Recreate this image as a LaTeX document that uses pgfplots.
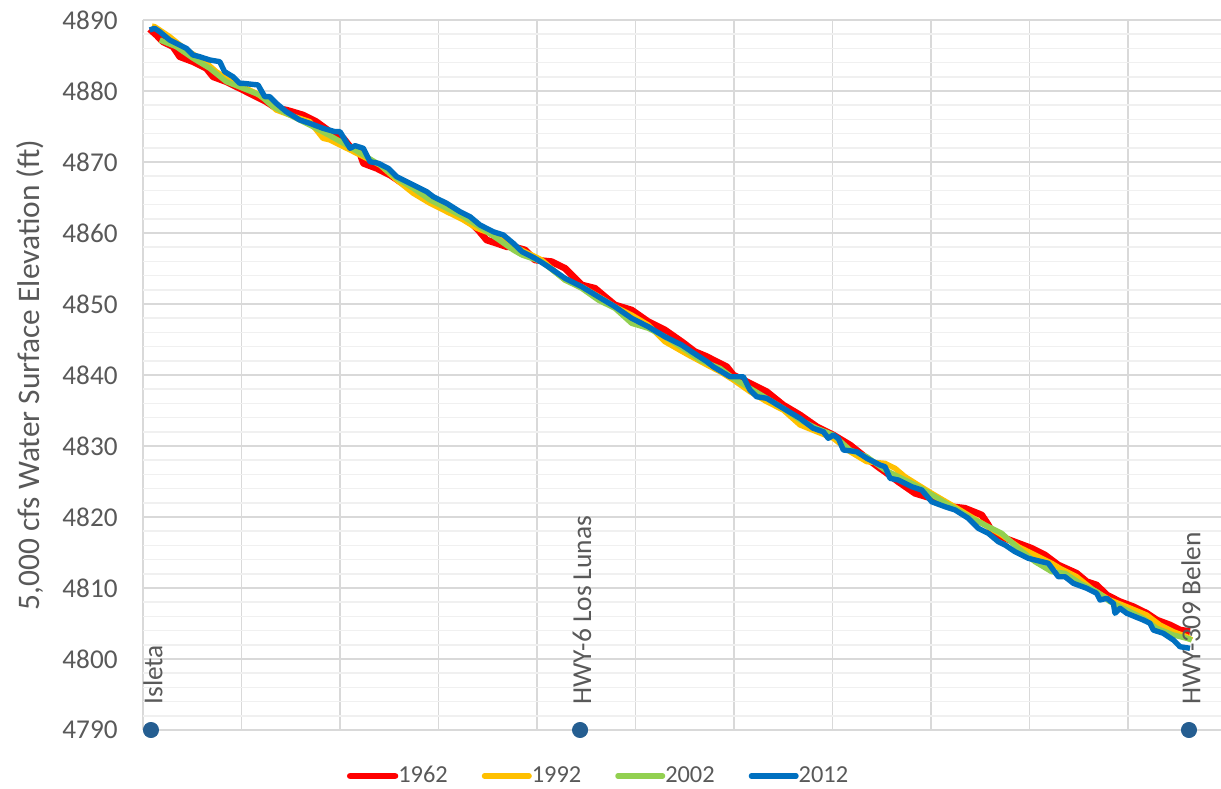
\documentclass[border=0pt]{standalone}
\usepackage{fontspec}
\setmainfont{Carlito}
\usepackage{pgfplots}
\pgfplotsset{compat=1.18}

\definecolor{c62}{RGB}{255,0,0}
\definecolor{c92}{RGB}{255,192,0}
\definecolor{c02}{RGB}{146,208,80}
\definecolor{c12}{RGB}{0,112,192}
\definecolor{site}{RGB}{37,94,145}
\definecolor{txt}{RGB}{89,89,89}
\definecolor{gmaj}{RGB}{217,217,217}
\definecolor{gmin}{RGB}{240,240,240}

\begin{document}
\begin{tikzpicture}
\begin{axis}[
  scale only axis, width=539pt, height=355pt,
  xmin=0, xmax=10.944, ymin=4790, ymax=4890,
  xtick={0,...,10}, xticklabels={},
  ytick={4790,4800,...,4890}, minor ytick={4792,4794,...,4888},
  grid=both,
  major grid style={gmaj, line width=0.75pt},
  minor grid style={gmin, line width=0.75pt},
  axis line style={draw=none},
  tick style={draw=none},
  major tick length=0pt, minor tick length=0pt,
  /pgf/number format/assume math mode=true,
  /pgf/number format/set thousands separator={},
  yticklabel style={font=\fontsize{13.6}{16}\selectfont, text=txt, inner sep=0pt, xshift=-12.5pt},
  ylabel={5,000 cfs Water Surface Elevation (ft)},
  every axis y label/.style={at={(rel axis cs:0,0.5)}, xshift=-56.5pt, rotate=90, anchor=center,
    font=\fontsize{15.7}{18}\selectfont, text=txt},
  clip=false,
  legend columns=4,
  legend style={at={(rel axis cs:0.1888,0)}, yshift=-23pt, anchor=west, draw=none, fill=none,
    inner sep=0pt, font=\fontsize{12.2}{14}\selectfont, text=txt,
    nodes={inner sep=1.2pt},
    /tikz/every odd column/.append style={column sep=-1.2pt},
    /tikz/every even column/.append style={column sep=15.8pt}},
  legend image code/.code={\draw[#1, line cap=round] (1.35pt,0pt) -- (23.65pt,0pt);},
  line join=round,
]
\coordinate (bl) at (rel axis cs:0,0);
\coordinate (tr) at (rel axis cs:1,1);

% 1962 profile
\addplot[c62, line width=3.4pt] coordinates {
(0.068,4888.73) (0.135,4887.89) (0.203,4886.94) (0.305,4886.24) (0.373,4884.83)
(0.508,4884.13) (0.643,4883.20) (0.711,4882.01) (0.846,4881.31) (0.982,4880.38)
(1.117,4879.44) (1.252,4878.49) (1.353,4877.56) (1.455,4877.32) (1.624,4876.62)
(1.759,4875.68) (1.898,4874.27) (2.034,4873.34) (2.102,4872.15) (2.203,4871.23)
(2.237,4869.82) (2.373,4869.11) (2.508,4868.17) (2.609,4867.23) (2.744,4866.06)
(2.880,4865.35) (3.015,4863.94) (3.185,4862.77) (3.320,4861.59) (3.404,4860.42)
(3.489,4859.01) (3.591,4858.55) (3.692,4858.07) (3.777,4858.00) (3.878,4857.61)
(3.980,4856.20) (4.149,4855.96) (4.284,4855.03) (4.386,4853.62) (4.454,4852.68)
(4.589,4852.21) (4.690,4851.03) (4.792,4849.86) (4.961,4849.15) (5.130,4847.51)
(5.299,4846.34) (5.469,4844.69) (5.604,4843.28) (5.726,4842.58) (5.789,4842.11)
(5.926,4841.17) (5.993,4840.00) (6.162,4838.83) (6.332,4837.65) (6.500,4835.77)
(6.670,4834.37) (6.840,4832.72) (7.008,4831.55) (7.178,4830.14) (7.347,4828.27)
(7.482,4826.86) (7.533,4826.38) (7.668,4824.97) (7.838,4823.34) (8.007,4822.63)
(8.210,4821.45) (8.345,4821.23) (8.515,4820.28) (8.582,4818.87) (8.616,4817.93)
(8.751,4817.00) (8.886,4816.30) (9.022,4815.59) (9.157,4814.65) (9.292,4813.24)
(9.479,4812.07) (9.581,4810.89) (9.682,4810.42) (9.784,4809.01) (9.919,4808.07)
(10.054,4807.37) (10.190,4806.44) (10.292,4805.49) (10.426,4804.79) (10.528,4804.08)
(10.629,4803.85)
};
\addlegendentry{1962}

% 1992 profile
\addplot[c92, line width=2.7pt] coordinates {
(0.091,4889.15) (0.119,4889.06) (0.271,4887.65) (0.440,4885.77) (0.609,4884.37)
(0.744,4882.72) (0.880,4881.55) (1.015,4880.61) (1.150,4879.68) (1.252,4878.73)
(1.353,4877.32) (1.489,4876.62) (1.693,4875.68) (1.827,4873.34) (1.898,4873.10)
(2.102,4871.69) (2.237,4870.75) (2.406,4869.58) (2.576,4867.46) (2.744,4865.59)
(2.914,4864.18) (3.083,4863.00) (3.252,4861.83) (3.388,4860.66) (3.523,4859.96)
(3.692,4859.01) (3.777,4858.07) (4.048,4856.20) (4.284,4853.38) (4.454,4852.44)
(4.657,4850.80) (4.792,4849.62) (4.961,4848.45) (5.130,4847.04) (5.299,4844.69)
(5.536,4842.82) (5.726,4841.41) (5.858,4840.46) (5.993,4839.30) (6.162,4837.65)
(6.332,4836.24) (6.500,4835.07) (6.670,4832.96) (6.840,4832.01) (7.008,4831.08)
(7.178,4829.20) (7.347,4827.79) (7.533,4827.56) (7.635,4826.86) (7.736,4825.68)
(7.871,4824.51) (8.007,4823.34) (8.210,4821.69) (8.379,4820.28) (8.548,4818.87)
(8.718,4817.46) (8.886,4815.82) (9.056,4814.65) (9.225,4813.48) (9.310,4812.77)
(9.479,4811.59) (9.648,4809.72) (9.817,4808.31) (9.987,4807.37) (10.190,4806.20)
(10.325,4804.79) (10.460,4803.85) (10.596,4803.14) (10.647,4802.68)
};
\addlegendentry{1992}

% 2002 profile
\addplot[c02, line width=2.7pt] coordinates {
(0.170,4887.18) (0.338,4886.24) (0.508,4884.61) (0.677,4883.20) (0.846,4881.31)
(1.015,4880.38) (1.185,4879.44) (1.320,4877.79) (1.523,4876.38) (1.693,4875.21)
(1.898,4873.70) (2.068,4872.39) (2.237,4870.99) (2.406,4869.58) (2.576,4867.70)
(2.744,4866.30) (2.914,4864.65) (3.083,4863.48) (3.252,4862.30) (3.388,4861.13)
(3.591,4859.25) (3.759,4857.61) (3.848,4856.90) (4.048,4855.96) (4.284,4853.38)
(4.454,4852.21) (4.622,4850.56) (4.792,4849.39) (4.961,4847.28) (5.130,4846.58)
(5.299,4845.39) (5.536,4843.28) (5.655,4842.11) (5.858,4840.94) (5.993,4839.54)
(6.162,4838.13) (6.332,4836.72) (6.500,4835.31) (6.670,4833.66) (6.840,4832.49)
(7.008,4831.55) (7.178,4829.44) (7.347,4828.49) (7.533,4826.62) (7.703,4825.45)
(7.871,4824.27) (8.041,4822.86) (8.210,4821.45) (8.413,4819.82) (8.548,4818.87)
(8.718,4817.70) (8.886,4815.59) (9.056,4813.70) (9.225,4812.30) (9.360,4812.07)
(9.513,4810.66) (9.682,4809.48) (9.817,4808.07) (9.987,4806.90) (10.155,4805.73)
(10.292,4804.32) (10.460,4803.38) (10.596,4802.92) (10.647,4802.68)
};
\addlegendentry{2002}

% 2012 profile
\addplot[c12, line width=2.7pt] coordinates {
(0.068,4888.59) (0.119,4888.83) (0.170,4888.35) (0.271,4887.18) (0.440,4886.01)
(0.508,4885.07) (0.576,4884.83) (0.677,4884.37) (0.779,4884.13) (0.829,4882.72)
(0.914,4882.01) (0.982,4881.08) (1.015,4881.08) (1.168,4880.85) (1.236,4879.20)
(1.286,4879.20) (1.353,4878.27) (1.455,4877.08) (1.591,4875.92) (1.693,4875.45)
(1.827,4874.75) (1.949,4874.27) (2.000,4874.27) (2.051,4873.10) (2.102,4871.93)
(2.152,4872.30) (2.237,4871.93) (2.305,4870.04) (2.389,4869.82) (2.490,4869.11)
(2.576,4867.93) (2.677,4867.23) (2.779,4866.52) (2.880,4865.82) (2.947,4865.11)
(3.083,4864.18) (3.218,4863.00) (3.320,4862.30) (3.421,4861.13) (3.556,4860.18)
(3.658,4859.72) (3.759,4858.55) (3.848,4857.37) (3.980,4856.44) (4.115,4855.25)
(4.284,4853.62) (4.454,4852.44) (4.622,4851.03) (4.792,4849.62) (4.961,4847.99)
(5.130,4846.80) (5.299,4845.39) (5.469,4844.23) (5.570,4843.28) (5.726,4841.87)
(5.789,4841.17) (5.959,4839.76) (6.094,4839.76) (6.162,4837.89) (6.230,4836.94)
(6.332,4836.72) (6.500,4835.31) (6.670,4833.90) (6.805,4832.49) (6.907,4832.01)
(6.957,4831.08) (7.008,4831.55) (7.059,4831.08) (7.110,4829.44) (7.246,4829.20)
(7.347,4828.27) (7.482,4827.32) (7.533,4827.08) (7.584,4825.45) (7.668,4825.21)
(7.804,4824.27) (7.906,4823.80) (8.007,4822.15) (8.142,4821.45) (8.244,4820.99)
(8.379,4819.82) (8.480,4818.41) (8.582,4817.70) (8.683,4816.52) (8.751,4816.06)
(8.853,4815.11) (8.988,4814.18) (9.191,4813.48) (9.292,4811.59) (9.360,4811.59)
(9.445,4810.66) (9.581,4809.96) (9.682,4809.25) (9.716,4808.31) (9.784,4808.55)
(9.851,4807.85) (9.868,4806.44) (9.919,4807.14) (9.987,4806.44) (10.155,4805.49)
(10.223,4805.03) (10.257,4804.08) (10.358,4803.62) (10.460,4802.68) (10.528,4801.73)
(10.629,4801.51)
};
\addlegendentry{2012}

% Reference sites along the reach
\addplot[only marks, mark=*, mark size=3.8pt, mark options={draw=site, fill=site},
  point meta=explicit symbolic, nodes near coords,
  every node near coord/.style={font=\fontsize{13.7}{16}\selectfont, text=txt, inner sep=0pt,
    xshift=1pt, yshift=12.5pt, anchor=west, rotate=90},
  forget plot] coordinates {
(0.081,4790) [Isleta]
(4.437,4790) [HWY-6 Los Lunas]
(10.619,4790) [HWY-309 Belen]
};
\end{axis}
\pgfresetboundingbox
\path[use as bounding box] ([xshift=-71.5pt,yshift=-29pt]bl) rectangle ([yshift=10pt]tr);
\end{tikzpicture}
\end{document}
